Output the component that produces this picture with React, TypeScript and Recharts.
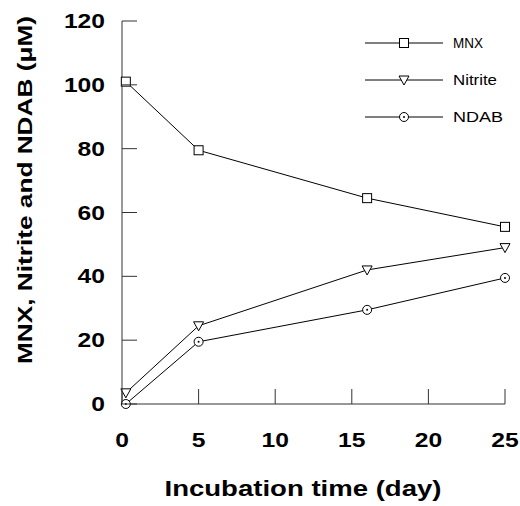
import { LineChart, Line, XAxis, YAxis, Legend } from "recharts";

// sampling days and measured concentrations (mM)
const days = [0.25, 5, 16, 25];
const mnx = [101, 79.5, 64.5, 55.5];
const nitrite = [3.5, 24.5, 42, 49];
const ndab = [0, 19.5, 29.5, 39.5];

const xTicks = [0, 5, 10, 15, 20, 25];
const yTicks = [0, 20, 40, 60, 80, 100, 120];

const data = days.map((d, i) => ({
  day: d,
  mnx: mnx[i],
  nitrite: nitrite[i],
  ndab: ndab[i],
}));

const FONT = "'Liberation Sans', Arial, sans-serif";
const AXIS = "#333";
const TICK_LEN = 15;
const CHAR_W = 13.7;

function Marker({ kind, cx, cy }: { kind: string; cx: number; cy: number }) {
  if (kind === "square") {
    return (
      <rect x={cx - 4.5} y={cy - 4.5} width={9} height={9} fill="#fff" stroke="#000" strokeWidth={1} />
    );
  }
  if (kind === "triangle") {
    return (
      <path
        d={`M${cx - 5},${cy - 4} L${cx + 5},${cy - 4} L${cx},${cy + 5} Z`}
        fill="#fff"
        stroke="#000"
        strokeWidth={1}
      />
    );
  }
  return (
    <g>
      <circle cx={cx} cy={cy} r={4.5} fill="#fff" stroke="#000" strokeWidth={1} />
      <circle cx={cx} cy={cy} r={1} fill="#000" />
    </g>
  );
}

const dotFor = (kind: string) => (props: any) => (
  <Marker key={`${kind}-${props.index}`} kind={kind} cx={props.cx} cy={props.cy} />
);

function XTick(props: any) {
  const { x, y, payload } = props;
  const label = String(payload.value);
  return (
    <g>
      <line x1={x} y1={y} x2={x} y2={y - TICK_LEN} stroke={AXIS} />
      <text
        x={x}
        y={y + 43}
        textAnchor="middle"
        fontFamily={FONT}
        fontWeight="bold"
        fontSize={20}
        fill="#000"
        textLength={label.length * CHAR_W}
        lengthAdjust="spacingAndGlyphs"
      >
        {label}
      </text>
    </g>
  );
}

function YTick(props: any) {
  const { x, y, payload } = props;
  const label = String(payload.value);
  return (
    <g>
      <line x1={x} y1={y} x2={x + TICK_LEN} y2={y} stroke={AXIS} />
      <text
        x={x - 17}
        y={y + 7}
        textAnchor="end"
        fontFamily={FONT}
        fontWeight="bold"
        fontSize={20}
        fill="#000"
        textLength={label.length * CHAR_W}
        lengthAdjust="spacingAndGlyphs"
      >
        {label}
      </text>
    </g>
  );
}

const legendOrder = ["mnx", "nitrite", "ndab"];
const legendKinds: Record<string, string> = {
  mnx: "square",
  nitrite: "triangle",
  ndab: "circle",
};
const legendWidths: Record<string, number> = { mnx: 30, nitrite: 44, ndab: 50 };

function LegendBox(props: any) {
  const items = [...(props.payload || [])].sort(
    (a: any, b: any) =>
      legendOrder.indexOf(String(a.dataKey)) - legendOrder.indexOf(String(b.dataKey))
  );
  return (
    <svg width={160} height={110}>
      {items.map((item: any, i: number) => {
        const cy = 18 + i * 37;
        const key = String(item.dataKey);
        return (
          <g key={key}>
            <line x1={5} y1={cy} x2={83} y2={cy} stroke="#000" />
            <Marker kind={legendKinds[key]} cx={44} cy={cy} />
            <text
              x={93}
              y={cy + 5}
              fontFamily={FONT}
              fontSize={14.5}
              fill="#000"
              textLength={legendWidths[key]}
              lengthAdjust="spacingAndGlyphs"
            >
              {item.value}
            </text>
          </g>
        );
      })}
    </svg>
  );
}

function YTitle(props: any) {
  const vb = props.viewBox || { x: 0, y: 21, height: 383 };
  const cx = vb.x + 32;
  const cy = 190;
  return (
    <text
      x={cx}
      y={cy}
      transform={`rotate(-90, ${cx}, ${cy})`}
      textAnchor="middle"
      fontFamily={FONT}
      fontWeight="bold"
      fontSize={21}
      fill="#000"
      textLength={348}
      lengthAdjust="spacingAndGlyphs"
    >
      MNX, Nitrite and NDAB (μM)
    </text>
  );
}

function XTitle(props: any) {
  const vb = props.viewBox || { x: 122, y: 404, width: 383 };
  const cx = 303;
  const cy = vb.y + 92;
  return (
    <text
      x={cx}
      y={cy}
      textAnchor="middle"
      fontFamily={FONT}
      fontWeight="bold"
      fontSize={22}
      fill="#000"
      textLength={277}
      lengthAdjust="spacingAndGlyphs"
    >
      Incubation time (day)
    </text>
  );
}

export default function App() {
  return (
    <div style={{ position: "absolute", left: 0, top: 0, background: "#fff" }}>
      <LineChart
        width={520}
        height={506}
        data={data}
        margin={{ top: 21, right: 15, left: 0, bottom: 0 }}
      >
        <XAxis
          dataKey="day"
          type="number"
          domain={[0, 25]}
          ticks={xTicks}
          interval={0}
          height={102}
          tickSize={0}
          tickMargin={0}
          tick={<XTick />}
          stroke={AXIS}
          label={{ content: <XTitle /> }}
        />
        <YAxis
          type="number"
          domain={[0, 120]}
          ticks={yTicks}
          interval={0}
          width={122}
          tickSize={0}
          tickMargin={0}
          tick={<YTick />}
          stroke={AXIS}
          label={{ content: <YTitle /> }}
        />
        <Legend
          layout="horizontal"
          verticalAlign="middle"
          align="center"
          content={<LegendBox />}
          wrapperStyle={{ position: "absolute", left: 360, top: 25, width: 160, height: 110 }}
        />
        <Line
          dataKey="mnx"
          name="MNX"
          stroke="#000"
          strokeWidth={1}
          dot={dotFor("square")}
          isAnimationActive={false}
        />
        <Line
          dataKey="nitrite"
          name="Nitrite"
          stroke="#000"
          strokeWidth={1}
          dot={dotFor("triangle")}
          isAnimationActive={false}
        />
        <Line
          dataKey="ndab"
          name="NDAB"
          stroke="#000"
          strokeWidth={1}
          dot={dotFor("circle")}
          isAnimationActive={false}
        />
      </LineChart>
    </div>
  );
}
